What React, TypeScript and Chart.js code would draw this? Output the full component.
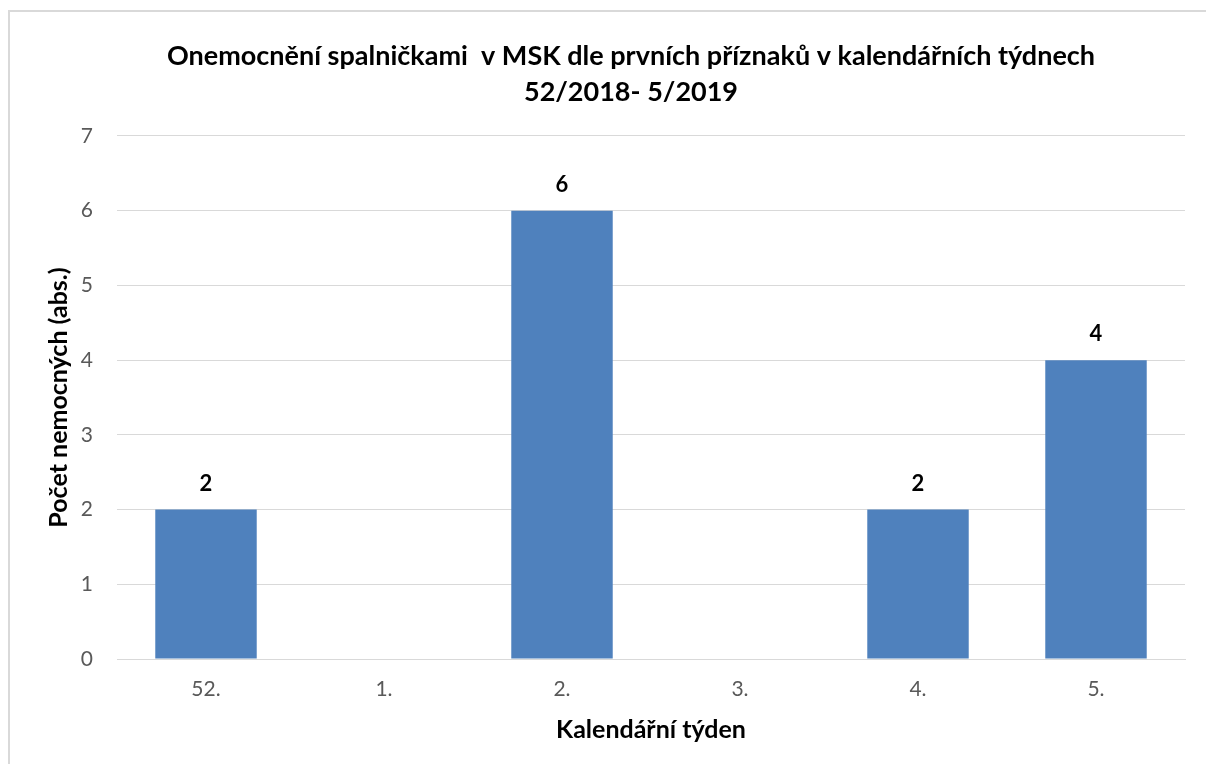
import React, { useEffect, useRef } from "react";
import { Chart, registerables } from "chart.js";

Chart.register(...registerables);

const titleLines = [
  "Onemocnění spalničkami  v MSK dle prvních příznaků v kalendářních týdnech",
  "52/2018- 5/2019",
];
const categories = ["52.", "1.", "2.", "3.", "4.", "5."];
const cases = [2, 0, 6, 0, 2, 4];
const yTitle = "Počet nemocných (abs.)";
const xTitle = "Kalendářní týden";

const FONT = "Lato, 'Open Sans', sans-serif";

const valueLabels = {
  id: "valueLabels",
  afterDatasetsDraw(chart: any) {
    const ctx = chart.ctx;
    const meta = chart.getDatasetMeta(0);
    ctx.save();
    ctx.font = `bold 22px ${FONT}`;
    ctx.fillStyle = "#000000";
    ctx.textAlign = "center";
    ctx.textBaseline = "middle";
    meta.data.forEach((el: any, i: number) => {
      const v = chart.data.datasets[0].data[i];
      if (!v) return;
      ctx.fillText(String(v), el.x, el.y - 26);
    });
    ctx.restore();
  },
};

export default function App() {
  const ref = useRef<HTMLCanvasElement>(null);
  useEffect(() => {
    document.body.style.overflow = "hidden";
    const chart = new Chart(ref.current!, {
      type: "bar",
      data: {
        labels: categories,
        datasets: [
          {
            data: cases,
            backgroundColor: "#4F81BD",
            barPercentage: 0.57,
            categoryPercentage: 1,
          },
        ],
      },
      options: {
        animation: false,
        responsive: false,
        layout: { padding: { left: 77, right: 21, top: 0, bottom: 0 } },
        plugins: {
          legend: { display: false },
          tooltip: { enabled: false },
          title: {
            display: true,
            text: titleLines,
            color: "#000000",
            font: { family: FONT, size: 27, weight: "bold", lineHeight: 1.333 },
            padding: { top: 38, bottom: 26 },
          },
        },
        scales: {
          x: {
            grid: { display: false, drawTicks: false },
            border: { display: true, color: "#d9d9d9", width: 1 },
            ticks: { color: "#595959", font: { family: FONT, size: 21 }, padding: 18 },
            title: {
              display: true,
              text: xTitle,
              color: "#000000",
              font: { family: FONT, size: 25, weight: "bold" },
              padding: { top: 0, bottom: 19 },
            },
            afterFit(scale: any) {
              scale.height = 105;
            },
          },
          y: {
            min: 0,
            max: 7,
            ticks: { stepSize: 1, color: "#595959", font: { family: FONT, size: 21 }, padding: 24 },
            grid: { color: "#d9d9d9", drawTicks: false },
            border: { display: false },
            title: {
              display: true,
              text: yTitle,
              color: "#000000",
              font: { family: FONT, size: 25, weight: "bold" },
              padding: { top: -33, bottom: 0 },
            },
            afterFit(scale: any) {
              scale.width = 40;
            },
          },
        },
      },
      plugins: [valueLabels],
    } as any);
    return () => chart.destroy();
  }, []);
  return (
    <div style={{ position: "absolute", left: 0, top: 0, width: 1206, height: 764, overflow: "hidden", background: "#fff" }}>
      <div
        style={{
          position: "absolute",
          left: 8,
          top: 10,
          width: 1198,
          height: 754,
          borderLeft: "2px solid #d9d9d9",
          borderTop: "2px solid #d9d9d9",
          boxSizing: "border-box",
        }}
      />
      <canvas ref={ref} width={1206} height={764} style={{ position: "absolute", left: 0, top: 0 }} />
    </div>
  );
}
